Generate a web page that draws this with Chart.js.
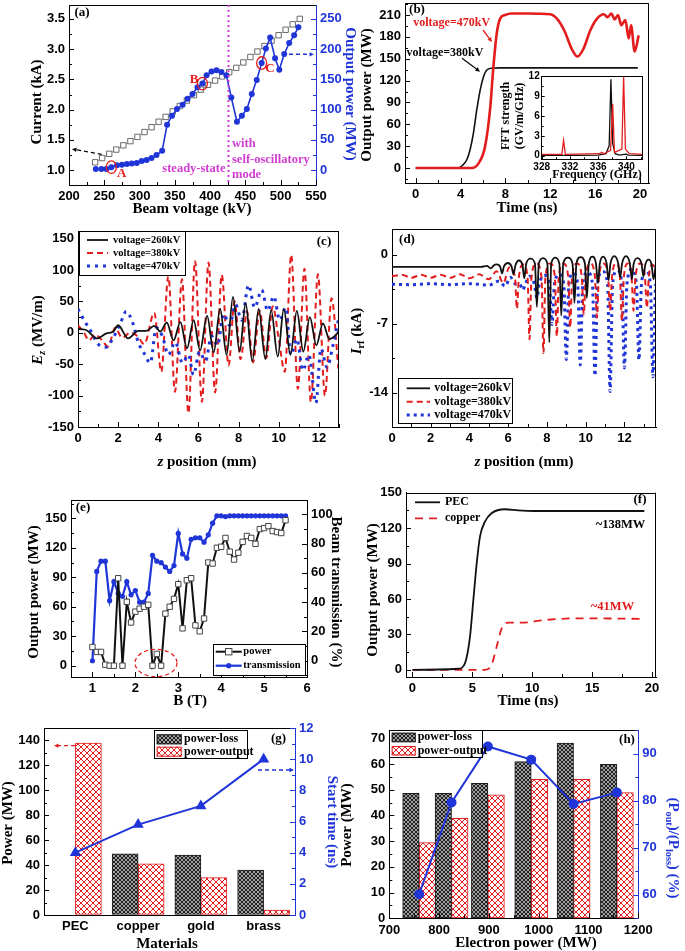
<!DOCTYPE html>
<html><head><meta charset="utf-8">
<script src="https://cdn.jsdelivr.net/npm/chart.js@4.4.1/dist/chart.umd.min.js"></script>
<style>html,body{margin:0;padding:0;background:#fff;}#wrap{position:relative;width:685px;height:951px;overflow:hidden;background:#fff;}canvas{position:absolute;left:0;top:0;}</style>
</head><body><div id="wrap"></div>
<script>
// ---------------- DATA ----------------
// (a)
const aVoltCur = [237,247,257,267,277,287,297,307,317,327,337,347,357,367,377,387,397,407,417,427,437,447,457,467,477,487,497,507,517,527];
const aCurrent = [1.13,1.20,1.27,1.34,1.41,1.48,1.55,1.63,1.71,1.80,1.88,1.97,2.06,2.15,2.24,2.33,2.41,2.48,2.55,2.62,2.69,2.78,2.87,2.96,3.05,3.14,3.23,3.32,3.41,3.50];
const aVoltPow = [238,246,253,260,268,275,282,289,296,303,310,317,324,332,339,346,353,361,368,375,382,389,395,402,409,416,423,430,438,445,452,459,466,473,479,485,492,498,505,512,519,525];
const aPower = [2,2,2,5,8,9,10,11,12,15,17,20,25,32,75,90,101,108,118,126,137,143,157,163,165,162,157,120,80,90,101,126,149,177,201,219,185,166,192,210,223,236];
const aMarked = [260,389,473];
const aModeVolt = 426;
const aXTicks = [200,250,300,350,400,450,500,550];
const aYTicks = [1.0,1.5,2.0,2.5,3.0,3.5];
const aY2Ticks = [0,50,100,150,200,250];
// (b)
const bTime380 = [0,3.8,4.1,4.55,4.85,5.15,5.45,5.75,6.04,6.34,6.8,7.5,9,12,16,19.8];
const bPow380 = [0,0,2.7,11,25,48,80,107,125,134.5,137,137.5,137.5,137.5,137.5,137.5];
const bTime470 = [0,5.0,5.59,6.18,6.63,6.93,7.23,7.53,7.97,8.57,10,12,12.7,13.3,13.9,14.43,14.97,15.57,16.17,16.76,17.12,17.44,17.74,18.04,18.33,18.69,18.99,19.2,19.52,19.88];
const bPow470 = [0,0,6,29,80,139,185,205,210,212,212,211,203,187,164,153,164,189,205,211,207,212,204,210,196,203,178,196,160,182];
const bXTicks = [0,4,8,12,16,20];
const bYTicks = [0,30,60,90,120,150,180,210];
// (b) inset FFT
const insFreqBlack = [328,333,336,337.1,337.55,337.8,338.05,338.4,339,339.9,340.3,342.3];
const insBlack = [0.05,0.05,0.1,0.3,1.5,11.5,1.8,0.3,0.1,0.25,0.1,0.05];
const insFreqRed = [328,330.85,331.1,331.35,336.2,336.5,336.8,337.75,338.05,338.3,339.35,339.6,339.85,340.4,342.3];
const insRed = [0.2,0.2,2.3,0.2,0.3,0.5,0.3,0.8,7.8,0.5,1.0,12,1.0,0.3,0.2];
const insXTicks = [328,332,336,340];
const insYTicks = [0,3,6,9,12];
// (c)
const cZ260 = [0,0.43,0.93,1.42,1.76,2.0,2.5,3.0,3.4,3.8,4.1,4.42,4.76,5.1,5.43,5.76,6.08,6.43,6.76,7.08,7.4,7.72,8.05,8.35,8.68,9.0,9.33,9.62,9.95,10.25,10.58,10.9,11.22,11.55,11.87,12.2,12.52,12.8,13.0];
const cE260 = [6,4,-9,-1,2,12,-9,3,3,11,2,16,-12,17,-25,20,-28,27,-31,38,-35,57,-30,47,-45,38,-42,36,-38,38,-35,35,-30,25,-20,15,-10,-5,3];
const cZ380 = [0,0.3,0.55,0.85,1.2,1.5,1.85,2.2,2.6,2.95,3.3,3.8,4.15,4.5,4.83,5.18,5.5,5.83,6.17,6.5,6.83,7.16,7.5,7.8,8.1,8.42,8.72,9.05,9.38,9.7,10.0,10.3,10.62,10.95,11.28,11.6,11.95,12.3,12.63,12.97];
const cE380 = [12,0,-12,-3,-12,-22,8,-8,0,-5,-18,32,-62,90,-94,85,-128,114,-110,112,-95,92,-52,50,-42,34,-47,35,-40,42,-10,-62,124,-89,102,-110,93,-100,55,-57];
const cZ470 = [0,0.3,0.65,1.0,1.4,1.75,2.1,2.4,2.7,3.0,3.3,3.6,3.9,4.2,4.5,4.85,5.2,5.5,5.75,6.05,6.35,6.65,6.95,7.25,7.55,7.85,8.15,8.5,8.8,9.15,9.45,9.75,10.05,10.35,10.6,10.9,11.2,11.5,11.85,12.1,12.4,12.7,13.0];
const cE470 = [38,20,2,-18,-23,-8,14,34,18,-15,-33,-48,8,-5,-35,-15,-48,-35,-67,-30,-45,-5,-20,30,12,45,20,76,40,68,35,58,20,40,-35,-10,-60,-35,-112,-25,-55,-20,25];
const cXTicks = [0,2,4,6,8,10,12];
const cYTicks = [-150,-100,-50,0,50,100,150];
// (d)
const dZ260 = [0,4.6,4.9,5.1,5.25,5.4,5.58,5.68,5.78,5.98,6.17,6.27,6.37,6.55,6.73,6.83,6.93,7.15,7.38,7.48,7.58,7.8,8.02,8.12,8.22,8.43,8.64,8.74,8.84,9.08,9.32,9.42,9.52,9.74,9.96,10.06,10.16,10.35,10.53,10.63,10.73,10.9,11.08,11.18,11.28,11.48,11.68,11.78,11.88,12.08,12.28,12.38,12.48,12.68,12.88,12.98,13.08,13.24,13.4,13.5,13.63];
const dI260 = [-1.25,-1.25,-1.15,-1.4,-1.1,-1.0,-1.2,-1.9,-1.2,-0.85,-1.2,-2.0,-1.1,-0.6,-1.0,-2.4,-0.9,-0.4,-0.9,-5.3,-0.9,-0.35,-0.9,-8.9,-0.9,-0.3,-0.9,-6.2,-0.9,-0.3,-0.9,-4.9,-0.9,-0.25,-0.9,-4.4,-0.9,-0.2,-0.9,-2.9,-0.9,-0.2,-0.9,-2.6,-0.9,-0.15,-0.9,-2.3,-0.9,-0.15,-0.9,-2.5,-0.9,-0.35,-0.9,-2.2,-1.0,-0.5,-1.0,-2.5,-0.8];
const dZ380 = [0,0.5,1.0,1.5,2.0,2.5,3.0,3.5,4.0,4.5,5.0,5.4,5.75,6.05,6.35,6.45,6.55,6.78,7.0,7.1,7.2,7.45,7.72,7.82,7.92,8.17,8.41,8.51,8.61,8.85,9.1,9.2,9.3,9.55,9.8,9.9,10.0,10.24,10.48,10.58,10.68,10.92,11.16,11.26,11.36,11.57,11.77,11.87,11.97,12.17,12.37,12.47,12.57,12.82,13.06,13.16,13.26,13.45,13.63];
const dI380 = [-2.2,-2.05,-2.35,-2.05,-2.35,-2.05,-2.35,-2.0,-2.4,-2.0,-2.5,-1.7,-2.9,-1.3,-2.3,-5.5,-2.3,-1.0,-2.3,-8.6,-2.3,-0.9,-2.3,-10.0,-2.3,-0.9,-2.3,-8.3,-2.3,-0.9,-2.3,-7.4,-2.3,-0.9,-2.3,-6.1,-2.3,-0.9,-2.3,-6.4,-2.3,-0.9,-2.3,-5.7,-2.3,-0.9,-2.3,-6.7,-2.3,-0.9,-2.3,-5.7,-2.3,-0.9,-2.3,-5.4,-2.3,-1.0,-1.8];
const dZ470 = [0,1.0,2.0,3.0,4.0,5.0,5.5,5.85,6.1,6.4,6.6,6.75,6.88,7.1,7.35,7.48,7.6,7.87,8.13,8.26,8.39,8.63,8.87,9.0,9.13,9.36,9.59,9.72,9.85,10.1,10.35,10.48,10.61,10.87,11.13,11.26,11.39,11.63,11.87,12.0,12.13,12.38,12.62,12.75,12.88,13.11,13.34,13.47,13.6];
const dI470 = [-3.0,-3.05,-2.95,-3.05,-2.95,-3.1,-2.7,-3.2,-2.3,-3.0,-3.0,-3.6,-3.0,-2.2,-3.0,-4.4,-3.0,-2.1,-3.0,-7.1,-3.0,-2.0,-3.0,-10.65,-3.0,-1.9,-3.0,-11.2,-3.0,-1.8,-3.0,-12.3,-3.0,-1.7,-3.0,-13.9,-3.0,-1.6,-3.0,-11.5,-3.0,-1.5,-3.0,-10.7,-3.0,-1.6,-3.0,-12.4,-3.0];
const dXTicks = [0,2,4,6,8,10,12];
const dYTicks = [-14,-7,0];
// (e)
const eB = [1.0,1.1,1.2,1.3,1.4,1.5,1.6,1.7,1.8,1.9,2.0,2.1,2.2,2.3,2.4,2.5,2.6,2.7,2.8,2.9,3.0,3.1,3.2,3.3,3.4,3.5,3.6,3.7,3.8,3.9,4.0,4.1,4.2,4.3,4.4,4.5,4.6,4.7,4.8,4.9,5.0,5.1,5.2,5.3,5.4,5.5];
const ePower = [19,14,14,1,0,0,89,0,65,44,55,58,60,62,0,12,0,53,60,68,83,38,87,89,41,35,48,105,104,120,121,130,116,108,115,126,132,130,124,139,140,142,137,136,135,148];
const eTrans = [0,61,68,68,41,54,46,44,54,45,48,40,40,46,72,68,67,64,61,65,87,73,70,83,84,84,81,86,94,99,99,98.5,99,99,99,99,99,99,99,99,99,99,99,99,99,99];
const eXTicks = [1,2,3,4,5,6];
const eYTicks = [0,30,60,90,120,150];
const eY2Ticks = [0,20,40,60,80,100];
// (f)
const fTimePEC = [0,3.83,4.38,4.8,5.08,5.36,5.64,6.05,6.6,7.72,8.84,10.2,14,19.36];
const fPEC = [0,1,5.6,28,59,90,113,125.5,132.6,136,135,134.5,134.5,134.5];
const fTimeCu = [0,6.05,6.6,7.03,7.45,8.0,9.1,11.1,13.8,19.36];
const fCu = [0,0,4.2,19.7,35.2,40,40,42.3,43.7,43.2];
const fXTicks = [0,5,10,15,20];
const fYTicks = [0,30,60,90,120,150];
// (g)
const gMaterials = ['PEC','copper','gold','brass'];
const gLoss = [null,49,48,36];
const gOutput = [138,41,30,4];
const gStart = [4.0,5.8,7.0,10.0];
const gYTicks = [0,20,40,60,80,100,120,140];
const gY2Ticks = [0,2,4,6,8,10,12];
// (h)
const hElec = [760,825,898,985,1070,1157];
const hLoss = [48.6,48.6,52.5,60.9,68.1,59.9];
const hOut = [29.4,38.9,48,54,54,48.9];
const hRatio = [60.1,79.6,91.5,88.7,79.3,81.7];
const hXTicks = [700,800,900,1000,1100,1200];
const hYTicks = [0,10,20,30,40,50,60,70];
const hY2Ticks = [60,70,80,90];

// ---------------- HELPERS ----------------
const SERIF = '"Liberation Serif","Times New Roman",serif';
const SANS = '"Liberation Sans",Arial,sans-serif';
const BLUE = '#1f35d8', RED = '#e31d1d', MAG = '#d23cd2';
Chart.defaults.color = '#000';
Chart.defaults.font.family = SANS;

const pts = (xs, ys) => xs.map((x, i) => ({x, y: ys[i]}));

function ax(position, min, max, tickVals, o = {}) {
  const color = o.color || '#000', size = o.size || 13;
  const horiz = position === 'bottom' || position === 'top';
  const box = o.box || (horiz ? 20 : 34);
  const s = {
    type: o.type || 'linear', position, offset: !!o.offset,
    grid: {display: true, drawOnChartArea: false, drawTicks: false, color, lineWidth: 1, offset: false},
    border: {display: true, color, width: 1},
    ticks: {color, font: {family: SANS, weight: 'bold', size}, padding: o.pad == null ? 4 : o.pad, autoSkip: false, maxRotation: 0, minRotation: 0},
    afterFit: sc => { if (horiz) { sc.height = box; sc.paddingLeft = 0; sc.paddingRight = 0; } else { sc.width = box; sc.paddingTop = 0; sc.paddingBottom = 0; } }
  };
  if (s.type === 'linear') {
    s.min = min; s.max = max;
    s.afterBuildTicks = sc => { sc.ticks = tickVals.map(v => ({value: v})); };
    const fmt = o.fmt || (v => String(v));
    s.ticks.callback = v => fmt(v);
  }
  return s;
}
function lay(L, T, R, B, y2) {
  return {padding: {left: L - 34, top: T, right: y2 ? 685 - R - 34 : 685 - R, bottom: 951 - B - 20}};
}
const frame = {id: 'frame', afterDraw(ch) {
  const a = ch.chartArea, c = ch.ctx;
  c.save(); c.strokeStyle = '#000'; c.lineWidth = 1; c.beginPath();
  const t = Math.round(a.top) + 0.5;
  c.moveTo(a.left, t); c.lineTo(a.right, t);
  if (!ch.scales.y2) { const r = Math.round(a.right) - 0.5; c.moveTo(r, a.top); c.lineTo(r, a.bottom); }
  c.stroke(); c.restore();
}};
// inward major + minor tick marks (Origin style)
const inTicks = (maj = 5, mnr = 3) => ({id: 'inticks', afterDraw(ch) {
  const c = ch.ctx, A = ch.chartArea;
  c.save(); c.lineWidth = 1;
  for (const id of Object.keys(ch.scales)) {
    const s = ch.scales[id];
    if (s.type !== 'linear') continue;
    const vals = s.ticks.map(t => t.value);
    const minors = [];
    for (let i = 0; i < vals.length - 1; i++) minors.push((vals[i] + vals[i + 1]) / 2);
    if (vals.length > 1) { const st = vals[1] - vals[0]; minors.push(vals[0] - st / 2, vals[vals.length - 1] + st / 2); }
    c.strokeStyle = s.options.border.color;
    const draw = (v, len) => {
      if (v < s.min - 1e-9 || v > s.max + 1e-9) return;
      const p = Math.round(s.getPixelForValue(v)) + 0.5;
      c.beginPath();
      if (s.position === 'bottom') { c.moveTo(p, A.bottom); c.lineTo(p, A.bottom - len); }
      else if (s.position === 'left') { c.moveTo(A.left, p); c.lineTo(A.left + len, p); }
      else if (s.position === 'right') { c.moveTo(A.right, p); c.lineTo(A.right - len, p); }
      c.stroke();
    };
    vals.forEach(v => draw(v, maj)); minors.forEach(v => draw(v, mnr));
  }
  c.restore();
}});
const deco = fn => ({id: 'deco', afterDraw: fn});

function rt(ctx, segs, x, y, size, color, rot = 0, align = 'center') {
  if (typeof segs === 'string') segs = [[segs, '']];
  ctx.save(); ctx.translate(x, y); if (rot) ctx.rotate(rot * Math.PI / 180);
  ctx.fillStyle = color || '#000'; ctx.textBaseline = 'middle'; ctx.textAlign = 'left';
  const parts = segs.map(([t, s]) => {
    const sub = s.includes('sub'); const fs = sub ? size * 0.68 : size;
    const f = (/\bi\b/.test(s) ? 'italic ' : '') + 'bold ' + fs + 'px ' + SERIF;
    ctx.font = f; return {t, f, w: ctx.measureText(t).width, dy: sub ? size * 0.28 : 0};
  });
  const total = parts.reduce((a, p) => a + p.w, 0);
  let cx = align === 'center' ? -total / 2 : align === 'right' ? -total : 0;
  for (const p of parts) { ctx.font = p.f; ctx.fillText(p.t, cx, p.dy); cx += p.w; }
  ctx.restore();
}
function arrow(c, x1, y1, x2, y2, color, dash, head = 5, w = 1.2) {
  c.save(); c.strokeStyle = color; c.fillStyle = color; c.lineWidth = w;
  const a = Math.atan2(y2 - y1, x2 - x1);
  c.setLineDash(dash || []); c.beginPath(); c.moveTo(x1, y1); c.lineTo(x2 - head * 0.8 * Math.cos(a), y2 - head * 0.8 * Math.sin(a)); c.stroke();
  c.setLineDash([]); c.beginPath(); c.moveTo(x2, y2);
  c.lineTo(x2 - head * Math.cos(a - 0.45), y2 - head * Math.sin(a - 0.45));
  c.lineTo(x2 - head * Math.cos(a + 0.45), y2 - head * Math.sin(a + 0.45));
  c.closePath(); c.fill(); c.restore();
}
function legLine(c, x1, x2, y, color, w, dash) {
  c.save(); c.strokeStyle = color; c.lineWidth = w; c.setLineDash(dash || []); c.beginPath(); c.moveTo(x1, y); c.lineTo(x2, y); c.stroke(); c.restore();
}
function legBox(c, x1, y1, x2, y2) {
  c.save(); c.fillStyle = '#fff'; c.fillRect(x1, y1, x2 - x1, y2 - y1); c.strokeStyle = '#000'; c.lineWidth = 1;
  c.strokeRect(Math.round(x1) + 0.5, Math.round(y1) + 0.5, Math.round(x2 - x1), Math.round(y2 - y1)); c.restore();
}
function swatch(c, x1, y1, x2, y2, fill, stroke) {
  c.save(); c.fillStyle = fill; c.fillRect(x1, y1, x2 - x1, y2 - y1); c.strokeStyle = stroke; c.lineWidth = 1; c.strokeRect(x1 + 0.5, y1 + 0.5, x2 - x1 - 1, y2 - y1 - 1); c.restore();
}
function patterns(ctx) {
  const d = document.createElement('canvas'); d.width = 4; d.height = 4; const g = d.getContext('2d');
  g.fillStyle = '#a0a0a0'; g.fillRect(0, 0, 4, 4); g.fillStyle = '#202020';
  for (let i = 0; i < 4; i++) { g.fillRect(i, i, 1, 1); g.fillRect(3 - i, i, 1, 1); }
  const r = document.createElement('canvas'); r.width = 6; r.height = 6; const h = r.getContext('2d');
  h.fillStyle = '#fff'; h.fillRect(0, 0, 6, 6); h.fillStyle = RED;
  for (let i = 0; i < 6; i++) { h.fillRect(i, i, 1, 1); h.fillRect(5 - i, i, 1, 1); }
  return {dark: ctx.createPattern(d, 'repeat'), red: ctx.createPattern(r, 'repeat')};
}
function mk(build) {
  const cv = document.createElement('canvas'); cv.width = 685; cv.height = 951;
  document.getElementById('wrap').appendChild(cv);
  const ctx = cv.getContext('2d');
  const conf = build(ctx);
  conf.options = Object.assign({responsive: false, maintainAspectRatio: false, animation: false, devicePixelRatio: 1, events: []}, conf.options);
  conf.options.plugins = {legend: {display: false}, tooltip: {enabled: false}};
  return new Chart(ctx, conf);
}
const line = (data, color, w, extra = {}) => Object.assign({data, borderColor: color, backgroundColor: color, borderWidth: w, pointRadius: 0, fill: false, cubicInterpolationMode: 'monotone'}, extra);

// ---------------- (a) ----------------
mk(ctx => ({
  type: 'line',
  data: {datasets: [
    {data: pts(aVoltPow, aPower), yAxisID: 'y2', order: 0, borderColor: BLUE, borderWidth: 1.6, pointStyle: 'circle', pointRadius: 3, pointBackgroundColor: BLUE, pointBorderColor: BLUE, pointBorderWidth: 0, tension: 0, fill: false},
    {data: pts(aVoltCur, aCurrent), yAxisID: 'y', order: 1, borderColor: '#8c8c8c', borderWidth: 1, pointStyle: 'rect', pointRadius: 3.8, pointBackgroundColor: '#fff', pointBorderColor: '#6a6a6a', pointBorderWidth: 1, tension: 0, fill: false}
  ]},
  options: {layout: lay(69, 3, 316, 185, true), scales: {
    x: ax('bottom', 200, 550, aXTicks),
    y: ax('left', 0.755, 3.729, aYTicks, {fmt: v => v.toFixed(1)}),
    y2: ax('right', -24.5, 272.9, aY2Ticks, {color: BLUE})
  }},
  plugins: [frame, inTicks(), deco(ch => {
    const c = ch.ctx, sx = ch.scales.x, sy2 = ch.scales.y2, A = ch.chartArea;
    rt(c, 'Beam voltage (kV)', 192, 209, 15, '#000');
    rt(c, 'Current (kA)', 37, 102, 15, '#000', -90);
    rt(c, 'Output power (MW)', 350, 94, 15, BLUE, 90);
    rt(c, '(a)', 82, 13, 13, '#000');
    const mx = sx.getPixelForValue(aModeVolt);
    c.save(); c.strokeStyle = MAG; c.lineWidth = 2; c.setLineDash([2, 3]); c.beginPath(); c.moveTo(mx, A.top); c.lineTo(mx, A.bottom); c.stroke(); c.restore();
    rt(c, 'steady-state', mx - 3, 169, 12.5, MAG, 0, 'right');
    rt(c, 'with', mx + 3.5, 144, 12.5, MAG, 0, 'left');
    rt(c, 'self-oscillatory', mx + 3.5, 160, 12.5, MAG, 0, 'left');
    rt(c, 'mode', mx + 3.5, 175, 12.5, MAG, 0, 'left');
    const labs = [['A', 121.7, 173.5], ['B', 194, 80], ['C', 270, 69]];
    aMarked.forEach((v, k) => {
      const i = aVoltPow.indexOf(v);
      const px = sx.getPixelForValue(v), py = sy2.getPixelForValue(aPower[i]);
      c.save(); c.strokeStyle = RED; c.lineWidth = 1.3; c.beginPath(); c.ellipse(px, py, 5, 6.3, 0, 0, Math.PI * 2); c.stroke(); c.restore();
      rt(c, labs[k][0], labs[k][1], labs[k][2], 13, RED);
    });
    arrow(c, 101.7, 154.3, 72, 149, '#000', [4, 3], 5, 1.2);
    arrow(c, 289, 54.3, 314, 54.3, BLUE, [4, 3], 5, 1.4);
  })]
}));

// ---------------- (b) ----------------
mk(ctx => ({
  type: 'line',
  data: {datasets: [
    line(pts(bTime470, bPow470), RED, 2.6, {order: 0}),
    line(pts(bTime380, bPow380), '#111', 1.6, {order: 1})
  ]},
  options: {layout: lay(405, 3, 649, 183, false), scales: {
    x: ax('bottom', -0.95, 20.8, bXTicks),
    y: ax('left', -20.6, 226.5, bYTicks)
  }},
  plugins: [frame, inTicks(), deco(ch => {
    const c = ch.ctx;
    rt(c, 'Time (ns)', 527, 208, 15, '#000');
    rt(c, 'Output power (MW)', 367, 95, 15, '#000', -90);
    rt(c, '(b)', 417, 10, 13, '#000');
    rt(c, 'voltage=470kV', 451.7, 23, 12, RED);
    rt(c, 'voltage=380kV', 445, 53, 12, '#000');
    arrow(c, 483, 30, 492, 42, RED, null, 5, 1.3);
    arrow(c, 462, 58.3, 480, 71.7, '#000', null, 5, 1.1);
  })]
}));

// ---------------- (b) inset ----------------
mk(ctx => ({
  type: 'line',
  data: {datasets: [
    line(pts(insFreqRed, insRed), RED, 1.3, {order: 0, cubicInterpolationMode: 'default', tension: 0}),
    line(pts(insFreqBlack, insBlack), '#111', 1.3, {order: 1, cubicInterpolationMode: 'default', tension: 0})
  ]},
  options: {layout: lay(541.7, 76, 642.7, 159.3, false), scales: {
    x: ax('bottom', 328, 342.3, insXTicks, {size: 10, pad: 2}),
    y: ax('left', -0.54, 12, insYTicks, {size: 10, pad: 2})
  }},
  plugins: [frame, inTicks(3, 2), deco(ch => {
    const c = ch.ctx;
    rt(c, 'FFT strength', 506, 116, 12, '#000', -90);
    rt(c, '(GV/m/GHz)', 520, 116, 12, '#000', -90);
    rt(c, 'Frequency (GHz)', 597, 175, 12, '#000');
  })]
}));

// ---------------- (c) ----------------
mk(ctx => ({
  type: 'line',
  data: {datasets: [
    line(pts(cZ260, cE260), '#111', 1.8, {order: 0}),
    line(pts(cZ470, cE470), BLUE, 3, {order: 1, borderDash: [3, 5]}),
    line(pts(cZ380, cE380), RED, 2, {order: 2, borderDash: [6, 4]})
  ]},
  options: {layout: lay(78, 231, 339, 427, false), scales: {
    x: ax('bottom', 0, 13, cXTicks),
    y: ax('left', -150, 162, cYTicks)
  }},
  plugins: [frame, inTicks(), deco(ch => {
    const c = ch.ctx;
    rt(c, [['E', 'i'], ['z', 'i sub'], [' (MV/m)', '']], 38, 330, 15, '#000', -90);
    rt(c, [['z', 'i'], [' position (mm)', '']], 207, 462, 15, '#000');
    rt(c, '(c)', 324, 242, 13, '#000');
    legBox(c, 79, 231, 185, 275);
    legLine(c, 87, 108, 240, '#111', 1.8);
    legLine(c, 87, 108, 253, RED, 2, [6, 4]);
    legLine(c, 87, 108, 266, BLUE, 3, [3, 5]);
    rt(c, 'voltage=260kV', 113, 240, 10.5, '#000', 0, 'left');
    rt(c, 'voltage=380kV', 113, 253, 10.5, '#000', 0, 'left');
    rt(c, 'voltage=470kV', 113, 266, 10.5, '#000', 0, 'left');
  })]
}));

// ---------------- (d) ----------------
mk(ctx => ({
  type: 'line',
  data: {datasets: [
    line(pts(dZ260, dI260), '#111', 1.8, {order: 0}),
    line(pts(dZ380, dI380), RED, 2, {order: 1, borderDash: [6, 4]}),
    line(pts(dZ470, dI470), BLUE, 3, {order: 2, borderDash: [3, 4]})
  ]},
  options: {layout: lay(392, 229, 656, 427, false), scales: {
    x: ax('bottom', 0, 13.63, dXTicks),
    y: ax('left', -17.5, 2.6, dYTicks)
  }},
  plugins: [frame, inTicks(), deco(ch => {
    const c = ch.ctx;
    rt(c, [['I', 'i'], ['rf', 'sub'], [' (kA)', '']], 357.5, 331, 15, '#000', -90);
    rt(c, [['z', 'i'], [' position (mm)', '']], 524, 462, 15, '#000');
    rt(c, '(d)', 407, 240, 13, '#000');
    legBox(c, 398, 378, 512, 423);
    legLine(c, 406.7, 430, 388.3, '#111', 1.8);
    legLine(c, 406.7, 430, 401.7, RED, 2, [6, 4]);
    legLine(c, 406.7, 430, 415, BLUE, 3, [3, 4]);
    rt(c, 'voltage=260kV', 434.3, 388.3, 12, '#000', 0, 'left');
    rt(c, 'voltage=380kV', 434.3, 401.7, 12, '#000', 0, 'left');
    rt(c, 'voltage=470kV', 434.3, 415, 12, '#000', 0, 'left');
  })]
}));

// ---------------- (e) ----------------
mk(ctx => ({
  type: 'line',
  data: {datasets: [
    {data: pts(eB, ePower), yAxisID: 'y', order: 0, borderColor: '#111', borderWidth: 2, tension: 0, fill: false, pointStyle: 'rect', pointRadius: 3.8, pointBackgroundColor: '#fff', pointBorderColor: '#444', pointBorderWidth: 1},
    {data: pts(eB, eTrans), yAxisID: 'y2', order: 1, borderColor: BLUE, borderWidth: 2.2, tension: 0, fill: false, pointStyle: 'circle', pointRadius: 2.6, pointBackgroundColor: BLUE, pointBorderColor: BLUE, pointBorderWidth: 0}
  ]},
  options: {layout: lay(71, 500, 307, 677, true), scales: {
    x: ax('bottom', 0.5, 6, eXTicks),
    y: ax('left', -11.5, 168.6, eYTicks),
    y2: ax('right', -11.1, 109.8, eY2Ticks)
  }},
  plugins: [frame, inTicks(), deco(ch => {
    const c = ch.ctx;
    rt(c, 'Output power (MW)', 34, 592, 15, '#000', -90);
    rt(c, 'Beam transmission (%)', 336, 592, 15, '#000', 90);
    rt(c, 'B (T)', 190, 701, 15, '#000');
    rt(c, '(e)', 83, 508, 13, '#000');
    c.save(); c.strokeStyle = RED; c.lineWidth = 1.3; c.setLineDash([4, 3]); c.beginPath(); c.ellipse(156, 663, 21, 13.7, 0, 0, Math.PI * 2); c.stroke(); c.restore();
    legBox(c, 213.3, 644, 305, 675);
    legLine(c, 215.7, 241.7, 651.7, '#111', 2);
    c.save(); c.fillStyle = '#fff'; c.strokeStyle = '#444'; c.lineWidth = 1; c.fillRect(225, 648, 7.4, 7.4); c.strokeRect(225.5, 648.5, 6.4, 6.4); c.restore();
    legLine(c, 215.7, 241.7, 665.7, BLUE, 2.2);
    c.save(); c.fillStyle = BLUE; c.beginPath(); c.arc(228.7, 665.7, 2.6, 0, Math.PI * 2); c.fill(); c.restore();
    rt(c, 'power', 243.3, 651.7, 10.5, '#000', 0, 'left');
    rt(c, 'transmission', 243.3, 665.7, 10.5, '#000', 0, 'left');
  })]
}));

// ---------------- (f) ----------------
mk(ctx => ({
  type: 'line',
  data: {datasets: [
    line(pts(fTimePEC, fPEC), '#111', 1.8, {order: 0}),
    line(pts(fTimeCu, fCu), RED, 1.8, {order: 1, borderDash: [8, 6]})
  ]},
  options: {layout: lay(406, 492.7, 656, 677, false), scales: {
    x: ax('bottom', -0.54, 20.33, fXTicks),
    y: ax('left', -6, 150, fYTicks)
  }},
  plugins: [frame, inTicks(), deco(ch => {
    const c = ch.ctx;
    rt(c, 'Output power (MW)', 373, 590, 15, '#000', -90);
    rt(c, 'Time (ns)', 528, 701, 15, '#000');
    rt(c, '(f)', 640, 500, 13, '#000');
    legLine(c, 415, 440, 502.3, '#111', 1.8);
    legLine(c, 415, 440, 518.3, RED, 1.8, [8, 6]);
    rt(c, 'PEC', 445, 502.3, 12, '#000', 0, 'left');
    rt(c, 'copper', 445, 518.3, 12, '#000', 0, 'left');
    rt(c, '~138MW', 620.5, 525, 12.5, '#000');
    rt(c, '~41MW', 612.5, 606.7, 12.5, RED);
  })]
}));

// ---------------- (g) ----------------
mk(ctx => {
  const P = patterns(ctx);
  const xs = ax('bottom', 0, 0, [], {type: 'category', offset: true});
  return {
    type: 'bar',
    data: {labels: gMaterials, datasets: [
      {type: 'line', data: gStart, yAxisID: 'y2', order: 0, borderColor: BLUE, backgroundColor: BLUE, borderWidth: 2, tension: 0, fill: false, pointStyle: 'triangle', pointRadius: 4.5, pointBackgroundColor: BLUE, pointBorderColor: BLUE},
      {data: gLoss, yAxisID: 'y', order: 1, backgroundColor: P.dark, borderColor: '#1a1a1a', borderWidth: 1, borderSkipped: false, barThickness: 26},
      {data: gOutput, yAxisID: 'y', order: 2, backgroundColor: P.red, borderColor: RED, borderWidth: 1, borderSkipped: false, barThickness: 26}
    ]},
    options: {layout: lay(44, 728, 295, 915, true), scales: {
      x: xs,
      y: ax('left', 0, 150, gYTicks),
      y2: ax('right', 0, 12, gY2Ticks, {color: BLUE})
    }},
    plugins: [frame, inTicks(), deco(ch => {
      const c = ch.ctx;
      rt(c, 'Power (MW)', 8, 823, 15, '#000', -90);
      rt(c, 'Start time (ns)', 332, 822, 15, BLUE, 90);
      rt(c, 'Materials', 167, 944, 15, '#000');
      rt(c, '(g)', 278.5, 739, 13, '#000');
      arrow(c, 75, 745.7, 54, 745.7, RED, [4, 3], 5, 1.3);
      arrow(c, 258, 770, 294, 770, BLUE, [4, 3], 5, 1.3);
      legBox(c, 154, 730, 247.3, 758.3);
      swatch(c, 156.7, 734.3, 181.7, 744.3, P.dark, '#1a1a1a');
      swatch(c, 156.7, 746.7, 181.7, 756.7, P.red, RED);
      rt(c, 'power-loss', 184, 739.3, 12, '#000', 0, 'left');
      rt(c, 'power-output', 184, 751.7, 12, '#000', 0, 'left');
    })]
  };
});

// ---------------- (h) ----------------
mk(ctx => {
  const P = patterns(ctx);
  return {
    type: 'bar',
    data: {datasets: [
      {type: 'line', data: pts(hElec, hRatio), yAxisID: 'y2', order: 0, borderColor: BLUE, backgroundColor: BLUE, borderWidth: 2, tension: 0, fill: false, pointStyle: 'circle', pointRadius: 4, pointBackgroundColor: BLUE, pointBorderColor: BLUE},
      {data: pts(hElec, hLoss), yAxisID: 'y', order: 1, backgroundColor: P.dark, borderColor: '#1a1a1a', borderWidth: 1, borderSkipped: false, barThickness: 16.5},
      {data: pts(hElec, hOut), yAxisID: 'y', order: 2, backgroundColor: P.red, borderColor: RED, borderWidth: 1, borderSkipped: false, barThickness: 16.5}
    ]},
    options: {layout: lay(389.3, 730, 638.3, 918.3, true), scales: {
      x: ax('bottom', 700, 1200, hXTicks),
      y: ax('left', 0, 73.2, hYTicks),
      y2: ax('right', 55, 95, hY2Ticks, {color: BLUE})
    }},
    plugins: [frame, inTicks(), deco(ch => {
      const c = ch.ctx;
      rt(c, 'Power (MW)', 347, 825, 15, '#000', -90);
      rt(c, [['(P', ''], ['out', 'sub'], [')/(P', ''], ['loss', 'sub'], [') (%)', '']], 673, 848, 15, BLUE, 90);
      rt(c, 'Electron power (MW)', 526, 943, 15, '#000');
      rt(c, '(h)', 627, 740, 13, '#000');
      legBox(c, 389.3, 730, 482.3, 756.7);
      swatch(c, 391.7, 732.7, 415.7, 742.2, P.dark, '#1a1a1a');
      swatch(c, 391.7, 746, 415.7, 755.5, P.red, RED);
      rt(c, 'power-loss', 417.7, 737.3, 12, '#000', 0, 'left');
      rt(c, 'power-output', 417.7, 750.7, 12, '#000', 0, 'left');
    })]
  };
});
</script></body></html>
